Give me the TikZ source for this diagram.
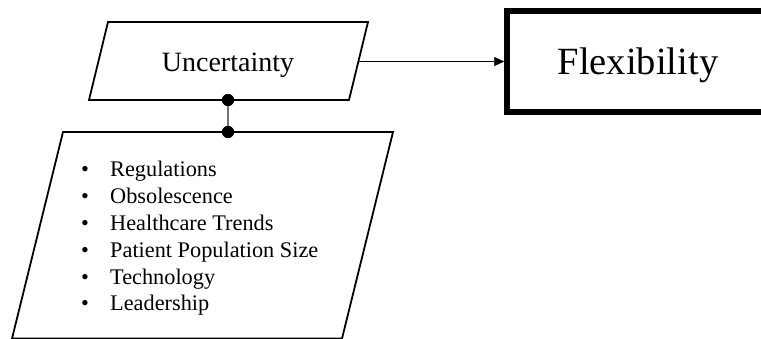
\documentclass[tikz,border=0pt]{standalone}
\usepackage{fontspec}
\setmainfont{Liberation Serif}
\usetikzlibrary{arrows.meta}
\begin{document}
\begin{tikzpicture}[x=1pt,y=-1pt,
  panel/.style={draw=black,line width=1.8pt,line join=miter},
  label/.style={inner sep=0pt,anchor=base,text=black},
  dot/.style={circle,fill=black,inner sep=0pt,minimum size=12pt},
  goal/.style={draw=black,line width=5.5pt,minimum width=263pt,minimum height=101pt,inner sep=0pt},
  link/.style={draw=black!55,line width=1.2pt},
  flow/.style={draw=black,line width=0.9pt,-{Triangle[length=10pt,width=9pt]}}
]
\fill[white] (0,0) rectangle (761,339);
\clip (0,0) rectangle (761,339);
\useasboundingbox (0,0) rectangle (761,339);

% driver parallelogram
\draw[panel] (89,100) -- (349,100) -- (368,22) -- (108,22) -- cycle;
\node[label,font=\fontsize{28}{30}\selectfont] (unc) at (228,71.7) {Uncertainty};
\coordinate (unc-east) at (358.5,61.5);

% outcome box (runs past the right edge)
\node[goal] (flex) at (638.5,61.5) {};
\node[label,font=\fontsize{38.5}{40}\selectfont] (flextext) at (638,75) {Flexibility};

\draw[flow] (unc-east) -- (flex.west);

% list of uncertainty sources
\draw[panel] (63,132) -- (393,132) -- (342,338.6) -- (12,338.6) -- cycle;
\foreach \t [count=\i] in {Regulations, Obsolescence, Healthcare Trends, Patient Population Size, Technology, Leadership} {
  \node[label,anchor=base west,font=\fontsize{22.3}{26}\selectfont] (bullet\i) at (81,{177+26.8*(\i-1)}) {\textbullet};
  \node[label,anchor=base west,font=\fontsize{22.3}{26}\selectfont] (item\i) at (110,{177+26.8*(\i-1)}) {\t};
}

% joint between the two parallelograms
\node[dot] (d1) at (228,100) {};
\node[dot] (d2) at (228,132) {};
\draw[link] (d1) -- (d2);
\node[dot] at (d1) {};
\node[dot] at (d2) {};
\end{tikzpicture}
\end{document}
